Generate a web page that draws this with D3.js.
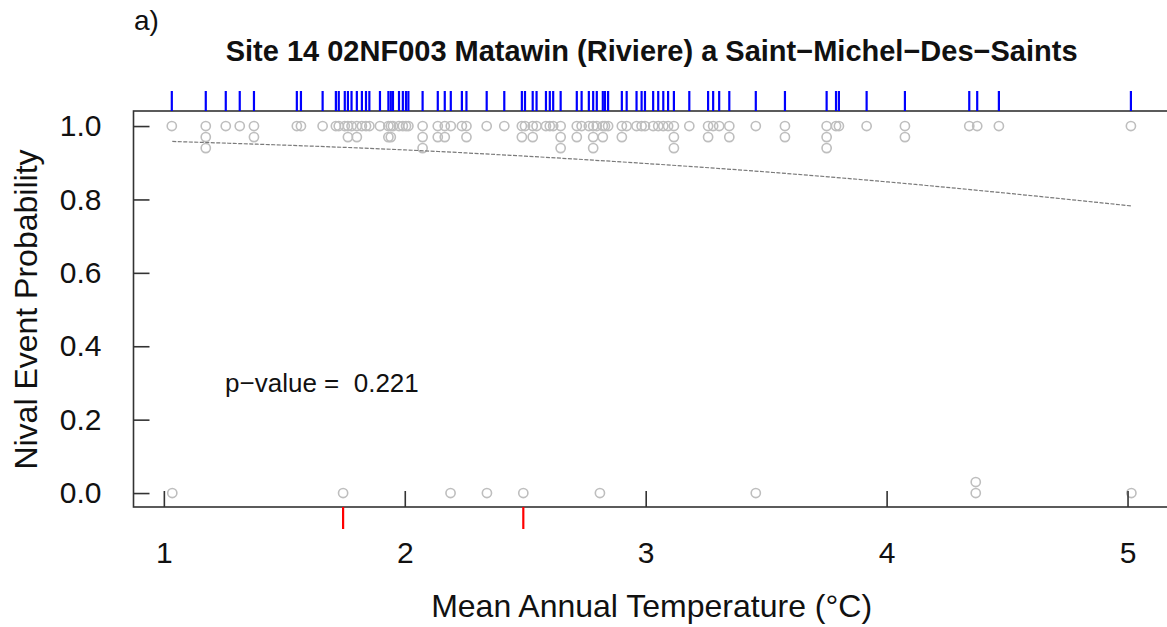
<!DOCTYPE html>
<html>
<head>
<meta charset="utf-8">
<script src="https://cdn.jsdelivr.net/npm/d3@7"></script>
<style>
  html, body { margin: 0; padding: 0; background: #fff; }
  svg { display: block; font-family: "Liberation Sans", Arial, sans-serif; }
</style>
</head>
<body>
<svg id="chart" width="1167" height="627"></svg>
<script>
// ---- data ----
const panelLabel = "a)";
const chartTitle = "Site 14 02NF003 Matawin (Riviere) a Saint\u2212Michel\u2212Des\u2212Saints";
const xTitle = "Mean Annual Temperature (\u00B0C)";
const yTitle = "Nival Event Probability";
const pValueText = "p\u2212value =  0.221";

const xTicks = [1, 2, 3, 4, 5];
const yTicks = [0, 0.2, 0.4, 0.6, 0.8, 1.0];
const yTickLabels = ["0.0", "0.2", "0.4", "0.6", "0.8", "1.0"];

// temperatures of nival events (outcome = 1); repeated values stack
const nivalTemps = [
  1.033, 1.174, 1.174, 1.174, 1.257, 1.315, 1.374, 1.374, 1.552, 1.569,
  1.659, 1.714, 1.726, 1.751, 1.764, 1.764, 1.779, 1.801, 1.801, 1.822,
  1.839, 1.853, 1.897, 1.932, 1.932, 1.942, 1.942, 1.951, 1.976, 1.992,
  2.005, 2.015, 2.074, 2.074, 2.074, 2.137, 2.137, 2.166, 2.166, 2.191,
  2.237, 2.256, 2.256, 2.340, 2.413, 2.486, 2.486, 2.499, 2.531, 2.531,
  2.547, 2.586, 2.602, 2.616, 2.647, 2.647, 2.647, 2.714, 2.714, 2.734,
  2.764, 2.782, 2.782, 2.782, 2.797, 2.822, 2.822, 2.831, 2.844, 2.901,
  2.901, 2.921, 2.962, 2.983, 2.997, 3.031, 3.052, 3.073, 3.093, 3.117,
  3.117, 3.117, 3.181, 3.259, 3.259, 3.280, 3.305, 3.347, 3.347, 3.457,
  3.578, 3.578, 3.751, 3.751, 3.751, 3.790, 3.802, 3.917, 4.076, 4.076,
  4.343, 4.376, 4.466, 5.014
];
// temperatures of non-nival events (outcome = 0)
const nonNivalTemps = [1.035, 1.744, 2.190, 2.341, 2.492, 2.810, 3.457, 4.370, 4.370, 5.016];
// red rug marks on the bottom axis
const redRugTemps = [1.744, 2.492];
// fitted logistic curve
const fitTemps = [1.035, 1.5, 2.0, 2.5, 3.0, 3.5, 4.0, 4.5, 5.02];
const fitProb  = [0.958, 0.948, 0.935, 0.918, 0.898, 0.875, 0.848, 0.817, 0.782];

// ---- drawing ----
const svg = d3.select("#chart");
const x = d3.scaleLinear().domain([0.874, 5.175]).range([133.5, 1169.7]);
const y = d3.scaleLinear().domain([-0.038, 1.041]).range([507, 111]);
const [x0, x1] = x.range();
const [yb, yt] = y.range();
const axisColor = "#333";
const stackStep = 0.03;

// stacked points
function stack(vals, base, dir) {
  const seen = new Map();
  return vals.map(v => {
    const k = v.toFixed(3);
    const n = seen.get(k) || 0;
    seen.set(k, n + 1);
    return { x: v, y: base + dir * n * stackStep };
  });
}
const pts = stack(nivalTemps, 1, -1).concat(stack(nonNivalTemps, 0, 1));

svg.append("g").selectAll("circle").data(pts).join("circle")
  .attr("cx", d => x(d.x)).attr("cy", d => y(d.y)).attr("r", 4.6)
  .attr("fill", "none").attr("stroke", "#bebebe").attr("stroke-width", 1.6);

// fitted curve
const fit = fitTemps.map((t, i) => [t, fitProb[i]]);
svg.append("path").datum(fit)
  .attr("d", d3.line().x(d => x(d[0])).y(d => y(d[1])).curve(d3.curveMonotoneX))
  .attr("fill", "none").attr("stroke", "#7a7a7a").attr("stroke-width", 1.2)
  .attr("stroke-dasharray", "4,1.5");

// box
const box = svg.append("g").attr("stroke", axisColor).attr("stroke-width", 1.6).attr("fill", "none");
box.append("rect").attr("x", x0).attr("y", yt).attr("width", x1 - x0).attr("height", yb - yt);

// axes
const ax = svg.append("g").attr("transform", `translate(0,${yb})`)
  .call(d3.axisBottom(x).tickValues(xTicks).tickFormat(d3.format("d")).tickSize(-16).tickPadding(35));
const ay = svg.append("g").attr("transform", `translate(${x0},0)`)
  .call(d3.axisLeft(y).tickValues(yTicks).tickFormat((d, i) => yTickLabels[i]).tickSize(-16).tickPadding(32));
[ax, ay].forEach(g => {
  g.select(".domain").remove();
  g.selectAll(".tick line").attr("stroke", axisColor).attr("stroke-width", 1.6);
  g.selectAll(".tick text").attr("fill", "#111").style("font-size", "30px")
    .style("font-family", '"Liberation Sans", Arial, sans-serif');
});

// top rug (nival events)
const uniqNival = Array.from(new Set(nivalTemps));
svg.append("g").selectAll("line").data(uniqNival).join("line")
  .attr("x1", d => x(d)).attr("x2", d => x(d)).attr("y1", yt).attr("y2", yt - 20)
  .attr("stroke", "#0000ff").attr("stroke-width", 2.2);

// bottom red rug
svg.append("g").selectAll("line").data(redRugTemps).join("line")
  .attr("x1", d => x(d)).attr("x2", d => x(d)).attr("y1", yb).attr("y2", yb + 22)
  .attr("stroke", "#ff0000").attr("stroke-width", 2.2);

// texts
svg.append("text").attr("x", 134).attr("y", 30).attr("fill", "#111")
  .style("font-size", "28px").text(panelLabel);
svg.append("text").attr("x", (x0 + x1) / 2).attr("y", 61).attr("text-anchor", "middle")
  .attr("fill", "#111").style("font-size", "29px").style("font-weight", "bold").text(chartTitle);
svg.append("text").attr("x", (x0 + x1) / 2).attr("y", 617).attr("text-anchor", "middle")
  .attr("fill", "#111").style("font-size", "32px").text(xTitle);
svg.append("text").attr("transform", `translate(37,${y(0.5)}) rotate(-90)`).attr("text-anchor", "middle")
  .attr("fill", "#111").style("font-size", "32px").text(yTitle);
svg.append("text").attr("x", x(1.254)).attr("y", y(0.3) + 9).attr("fill", "#111")
  .style("font-size", "26px").style("white-space", "pre").attr("xml:space", "preserve")
  .text(pValueText);
</script>
</body>
</html>
